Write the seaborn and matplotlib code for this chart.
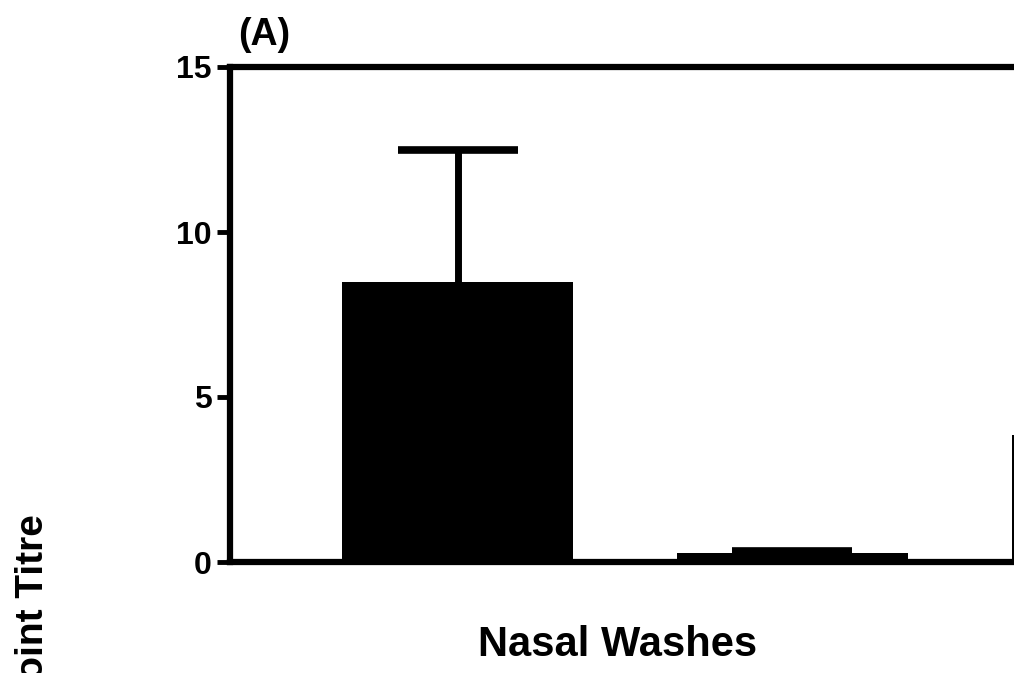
import matplotlib
matplotlib.use("Agg")
import matplotlib.pyplot as plt
import seaborn as sns
import numpy as np
import pandas as pd

# ---- data ----
groups = ["Group 1", "Group 2", "Group 3"]
mean_titre = [8.5, 0.27, 3.85]
upper_err = [4.0, 0.05, np.nan]
y_ticks = [0, 5, 10, 15]
panel_label = "(A)"
x_title = "Nasal Washes"
y_title = "Endpoint Titre"

sns.set_style("white")
plt.rcParams["font.family"] = ["Liberation Sans", "DejaVu Sans"]
plt.rcParams["font.weight"] = "bold"
plt.rcParams["text.color"] = "black"
plt.rcParams["ytick.color"] = "black"
plt.rcParams["ytick.labelcolor"] = "black"

fig = plt.figure(figsize=(10.14, 6.73), dpi=100)
ax = fig.add_axes([230 / 1014, 1 - 562 / 673, (1014 - 230) / 1014, (562 - 67) / 673])

df = pd.DataFrame({"group": groups, "titre": mean_titre})
sns.barplot(data=df, x="group", y="titre", color="black", width=0.69,
            errorbar=None, saturation=1, ax=ax, zorder=2)
for p in ax.patches:
    p.set_edgecolor("none")

eb = ax.errorbar(x=np.arange(len(groups)), y=mean_titre,
                 yerr=[np.zeros(len(groups)), upper_err],
                 fmt="none", ecolor="black", elinewidth=5, capsize=43, capthick=5.5,
                 zorder=1)
caps = eb[1]
if len(caps) >= 2:
    caps[0].set_visible(False)
for c in caps:
    c.set_solid_capstyle("round")

ax.set_xlim(-0.68, 1.662)
ax.set_ylim(0, 15)
ax.set_yticks(y_ticks)
ax.set_yticklabels([str(t) for t in y_ticks], fontsize=23, fontweight="bold",
                   color="black")
ax.set_xticks([])
ax.set_xlabel("")
ax.set_ylabel("")

for side in ["left", "bottom", "top"]:
    ax.spines[side].set_visible(True)
    ax.spines[side].set_linewidth(4.5)
    ax.spines[side].set_color("black")
ax.spines["right"].set_visible(False)
ax.tick_params(axis="y", direction="out", length=9.5, width=3.5, pad=3.5,
               colors="black", left=True)

fig.text(238 / 1014, 1 - 53 / 673, panel_label, fontsize=27, fontweight="bold",
         ha="left", va="bottom", color="black")
fig.text(618 / 1014, 1 - 645 / 673, x_title, fontsize=30, fontweight="bold",
         ha="center", va="center", color="black")
fig.text(33 / 1014, 1 - 514 / 673, y_title, fontsize=28, fontweight="bold",
         rotation=90, ha="center", va="top", color="black")

fig.savefig("out.png", dpi=100)
